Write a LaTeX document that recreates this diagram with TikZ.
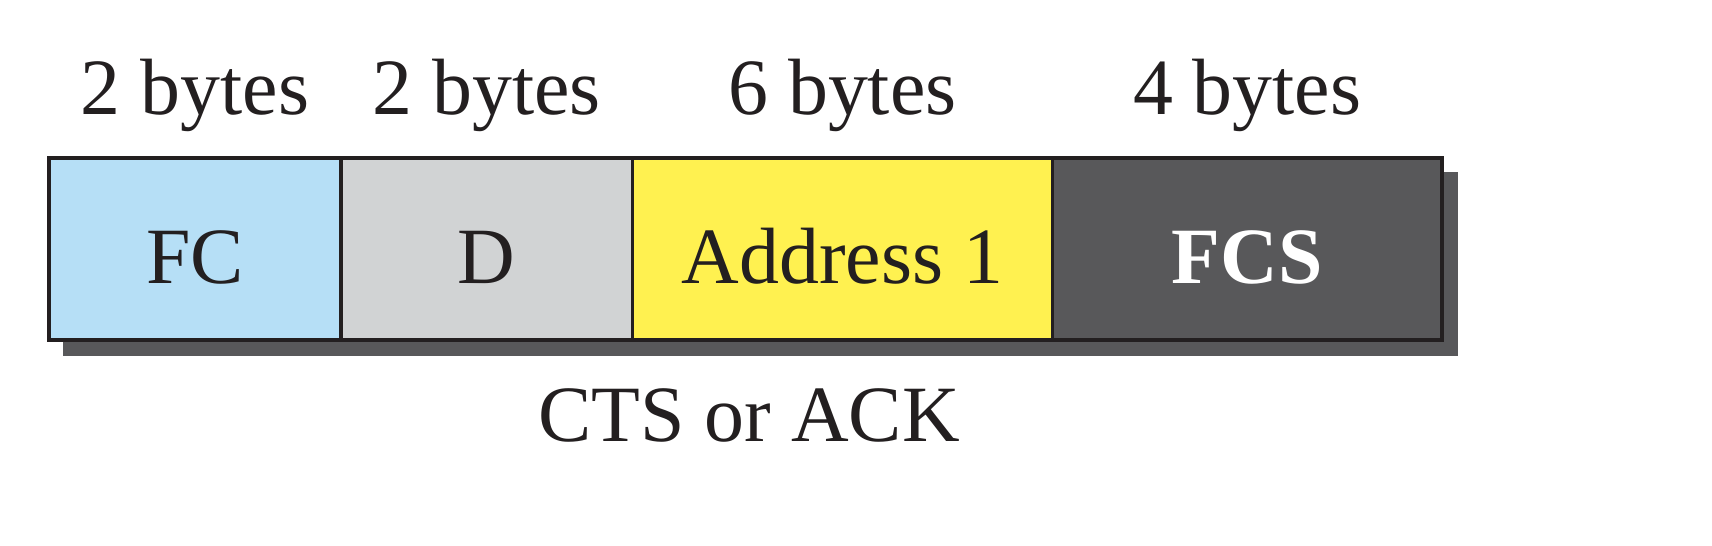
\documentclass[tikz,border=0pt]{standalone}
\usepackage{fontspec}
\setmainfont{Liberation Serif}
\usetikzlibrary{backgrounds}
\definecolor{fcblue}{HTML}{B6DFF6}
\definecolor{dgray}{HTML}{D1D3D4}
\definecolor{ayellow}{HTML}{FFF150}
\definecolor{fcsdark}{HTML}{58585A}
\definecolor{edge}{HTML}{231F20}
\begin{document}
\begin{tikzpicture}[x=0.01cm,y=-0.01cm,
  txt/.style={font=\fontsize{22.7}{27}\selectfont, text=edge, inner sep=0pt},
  cell/.style={draw=edge, line width=1pt, anchor=north west, inner sep=0pt, outer sep=0pt,
    minimum height=1.82cm, text height=0.68cm, text depth=0pt,
    font=\fontsize{22.7}{27}\selectfont, text=edge}]
\useasboundingbox (0,0) rectangle (1712,546);
% cells
\node[cell, fill=fcblue, minimum width=2.92cm] (fc) at (49,158) {FC};
\node[cell, fill=dgray, minimum width=2.91cm] (d) at (fc.north east) {D};
\node[cell, fill=ayellow, minimum width=4.20cm] (addr) at (d.north east) {Address 1};
\node[cell, fill=fcsdark, minimum width=3.89cm, text=white, font=\fontsize{22.7}{27}\selectfont\bfseries] (fcs) at (addr.north east) {FCS};
% shadow
\begin{scope}[on background layer]
\fill[fcsdark] ([shift={(14,14)}]fc.north west) coordinate (sh1) rectangle ([shift={(16,16)}]fcs.south east) coordinate (sh2);
\end{scope}
% size labels
\node[txt, anchor=base] (s1) at (fc.center |- 0,115) {2 bytes};
\node[txt, anchor=base] (s2) at (d.center |- 0,115) {2 bytes};
\node[txt, anchor=base] (s3) at (addr.center |- 0,115) {6 bytes};
\node[txt, anchor=base] (s4) at (fcs.center |- 0,115) {4 bytes};
% caption
\node[txt, anchor=base] (cap) at (749,442) {CTS or ACK};
\end{tikzpicture}
\end{document}
